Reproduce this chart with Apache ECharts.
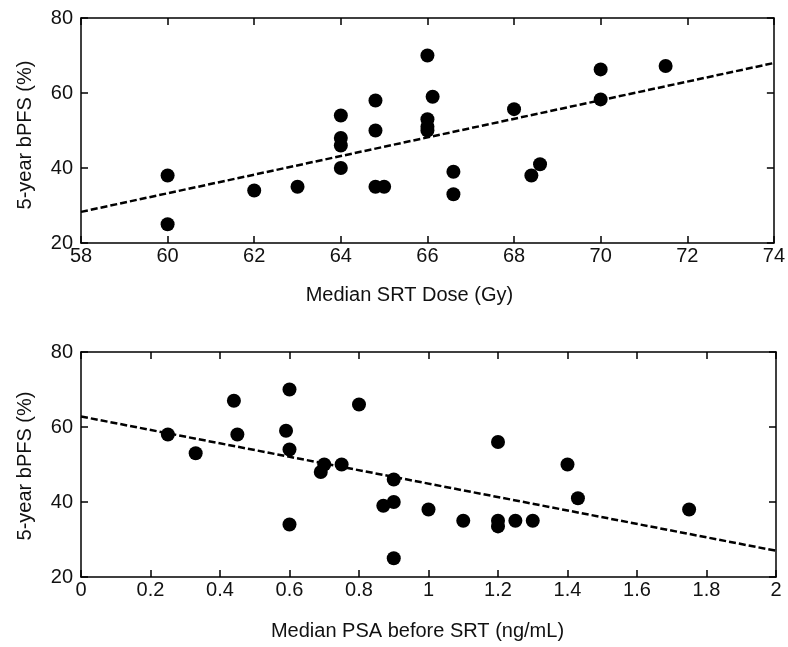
<!DOCTYPE html>
<html>
<head>
<meta charset="utf-8">
<script src="https://cdn.jsdelivr.net/npm/echarts@6/dist/echarts.min.js"></script>
<style>html,body{margin:0;padding:0;background:#fff}#c{width:788px;height:647px}</style>
</head>
<body>
<div id="c"></div>
<script>
// Top panel: Median SRT Dose (Gy) vs 5-year bPFS (%)
const doseX = [60, 60, 62, 63, 64, 64, 64, 64, 64.8, 64.8, 64.8, 65, 66, 66, 66, 66, 66.12, 66.6, 66.6, 68, 68.4, 68.6, 70, 70, 71.5];
const doseY = [38, 25, 34, 35, 54, 48, 46, 40, 58, 50, 35, 35, 70, 53, 51, 50, 59, 39, 33, 55.7, 38, 41, 66.3, 58.3, 67.2];
const doseFitX = [58, 74];
const doseFitY = [28.3, 68];

// Bottom panel: Median PSA before SRT (ng/mL) vs 5-year bPFS (%)
const psaX = [0.25, 0.33, 0.44, 0.45, 0.6, 0.59, 0.6, 0.6, 0.69, 0.7, 0.75, 0.8, 0.87, 0.9, 0.9, 0.9, 1.0, 1.1, 1.2, 1.2, 1.2, 1.25, 1.3, 1.4, 1.43, 1.75];
const psaY = [58, 53, 67, 58, 70, 59, 54, 34, 48, 50, 50, 66, 39, 46, 40, 25, 38, 35, 56, 35, 33.5, 35, 35, 50, 41, 38];
const psaFitX = [0, 2];
const psaFitY = [62.8, 27];

const yTitle = '5-year bPFS (%)';
const doseTitle = 'Median SRT Dose (Gy)';
const psaTitle = 'Median PSA before SRT (ng/mL)';

const zip = (a, b) => a.map((v, i) => [v, b[i]]);
const FONT = 'Liberation Sans, Arial, sans-serif';
const txt = { color: '#111', fontSize: 20, fontFamily: FONT };
const lineStyle = { color: '#000', width: 1.5 };
const tick = { show: true, inside: true, length: 7, lineStyle: { color: '#000', width: 1.5 } };

function mainX(grid, min, max, interval, name, gap, shift) {
  return { gridIndex: grid, type: 'value', min, max, interval, position: 'bottom',
    name, nameLocation: 'middle', nameGap: gap,
    nameTextStyle: Object.assign({}, txt, { padding: [0, shift, 0, 0] }),
    axisLine: { show: true, onZero: false, lineStyle }, axisTick: tick,
    axisLabel: Object.assign({}, txt, { margin: 3 }), splitLine: { show: false } };
}
function topX(grid, min, max, interval) {
  return { gridIndex: grid, type: 'value', min, max, interval, position: 'top',
    axisLine: { show: true, onZero: false, lineStyle }, axisTick: tick,
    axisLabel: { show: false }, splitLine: { show: false } };
}
function mainY(grid, shift) {
  return { gridIndex: grid, type: 'value', min: 20, max: 80, interval: 20, position: 'left',
    name: yTitle, nameLocation: 'middle', nameGap: 46, nameRotate: 90,
    nameTextStyle: Object.assign({}, txt, { padding: [0, shift, 0, 0] }),
    axisLine: { show: true, onZero: false, lineStyle }, axisTick: tick,
    axisLabel: Object.assign({}, txt, { margin: 8 }), splitLine: { show: false } };
}
function rightY(grid) {
  return { gridIndex: grid, type: 'value', min: 20, max: 80, interval: 20, position: 'right',
    axisLine: { show: true, onZero: false, lineStyle }, axisTick: tick,
    axisLabel: { show: false }, splitLine: { show: false } };
}
function scatter(xi, yi, data) {
  return { type: 'scatter', xAxisIndex: xi, yAxisIndex: yi, data, symbol: 'circle', symbolSize: 14,
    itemStyle: { color: '#000', opacity: 1 }, silent: true, z: 3 };
}
function fit(xi, yi, data) {
  return { type: 'line', xAxisIndex: xi, yAxisIndex: yi, data, symbol: 'none', silent: true,
    lineStyle: { color: '#000', width: 2.5, type: [7, 3] }, z: 2 };
}

const chart = echarts.init(document.getElementById('c'), null, { renderer: 'canvas' });
chart.setOption({
  animation: false,
  backgroundColor: '#fff',
  grid: [
    { left: 81, right: 12, top: 18, height: 225 },
    { left: 81, right: 12, top: 352, height: 225 }
  ],
  xAxis: [
    mainX(0, 58, 74, 2, doseTitle, 42, 36),
    topX(0, 58, 74, 2),
    mainX(1, 0, 2, 0.2, psaTitle, 44, 22),
    topX(1, 0, 2, 0.2)
  ],
  yAxis: [mainY(0, 9), rightY(0), mainY(1, 3), rightY(1)],
  series: [
    fit(0, 0, zip(doseFitX, doseFitY)),
    scatter(0, 0, zip(doseX, doseY)),
    fit(2, 2, zip(psaFitX, psaFitY)),
    scatter(2, 2, zip(psaX, psaY))
  ]
});
</script>
</body>
</html>
